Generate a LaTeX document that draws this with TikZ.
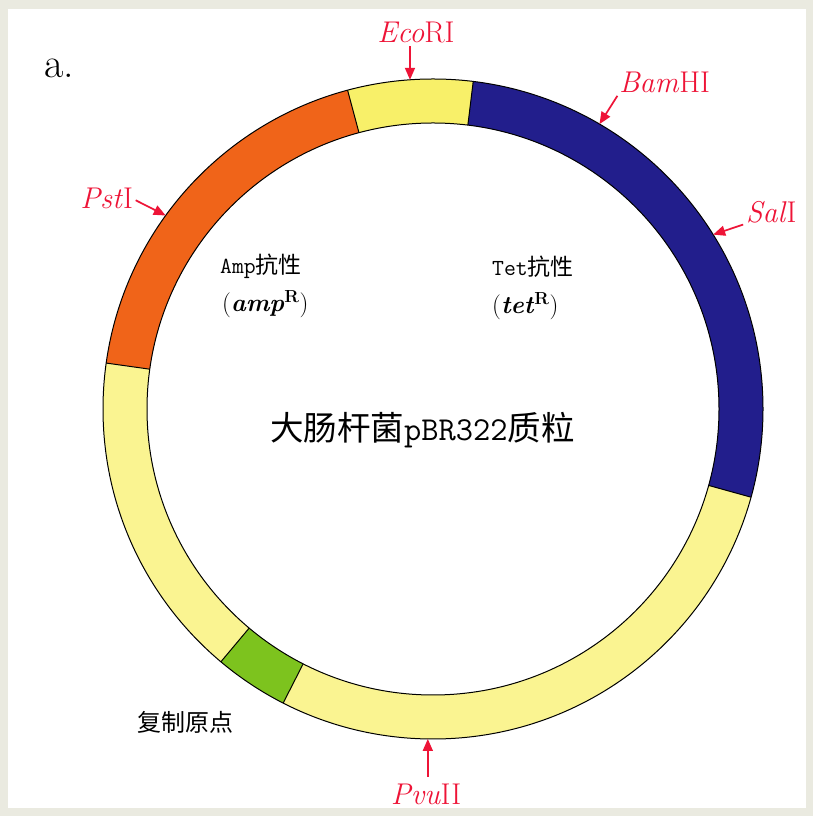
\documentclass[tikz,border=0pt]{standalone}
\usepackage{fontspec}
\newfontfamily\cjk{Noto Sans CJK SC}
\usetikzlibrary{arrows.meta}
\definecolor{cutred}{RGB}{238,20,55}
\definecolor{bgtex}{RGB}{234,234,224}
\definecolor{ringyellow}{RGB}{248,240,105}
\definecolor{paleyellow}{RGB}{250,244,145}
\definecolor{ringorange}{RGB}{240,100,25}
\definecolor{ringblue}{RGB}{34,30,140}
\definecolor{ringgreen}{RGB}{125,195,30}
\tikzset{
  cutlabel/.style={text=cutred, inner sep=0pt, outer sep=0pt, font=\fontsize{30}{34}\selectfont},
  cutarrow/.style={draw=cutred, line width=1.7pt, -{Triangle[length=12pt,width=10pt]}, shorten <=3pt},
  ringline/.style={draw=black, line width=1pt},
  genelabel/.style={inner sep=0pt, anchor=west, font=\fontsize{23}{27}\selectfont},
  genesym/.style={inner sep=0pt, anchor=west, font=\fontsize{25}{29}\selectfont},
}
\def\plasmidseg#1#2#3{\fill[#3] (#1:330) arc[start angle=#1,end angle=#2,radius=330] -- (#2:286) arc[start angle=#2,end angle=#1,radius=286] -- cycle;}
\begin{document}
\begin{tikzpicture}[x=1pt,y=1pt]
\useasboundingbox (0,0) rectangle (813,816);
\fill[bgtex] (0,0) rectangle (813,816);
\fill[white] (8,8) rectangle (806,807);

\begin{scope}[shift={(433,407)}]
  \plasmidseg{83}{105}{ringyellow}
  \plasmidseg{105}{172}{ringorange}
  \plasmidseg{172}{230}{paleyellow}
  \plasmidseg{230}{243}{ringgreen}
  \plasmidseg{243}{344.5}{paleyellow}
  \plasmidseg{-15.5}{83}{ringblue}
  \draw[ringline] (0,0) circle[radius=330];
  \draw[ringline] (0,0) circle[radius=286];
  \foreach \a in {83,105,172,230,243,344.5}
    \draw[ringline] (\a:286) -- (\a:330);
  \coordinate (ecoP) at (94:330);
  \coordinate (bamP) at (59.7:330);
  \coordinate (salP) at (31.9:330);
  \coordinate (pstP) at (144.1:330);
  \coordinate (pvuP) at (269.1:330);
\end{scope}

\node[anchor=base west, inner sep=0pt, font=\fontsize{42}{46}\selectfont] (alabel) at (44,738) {a.};

\node[cutlabel, anchor=base] (eco) at (416,773) {\textit{Eco}RI};
\node[cutlabel, anchor=base west] (bam) at (619,723) {\textit{Bam}HI};
\node[cutlabel, anchor=base west] (sal) at (746,593) {\textit{Sal}I};
\node[cutlabel, anchor=base east] (pst) at (133,607) {\textit{Pst}I};
\node[cutlabel, anchor=base] (pvu) at (426,11) {\textit{Pvu}II};

\draw[cutarrow] (eco.south -| ecoP) -- (ecoP);
\draw[cutarrow] (bam.south west) -- (bamP);
\draw[cutarrow] (sal.south west) -- (salP);
\draw[cutarrow] (pst.east) -- (pstP);
\draw[cutarrow, shorten <=8pt] (pvu.north -| pvuP) -- (pvuP);

\node[genelabel] (amp) at (220,550) {\ttfamily Amp\cjk 抗性};
\node[genesym] (ampr) at (222,512) {(\textbf{\textit{amp}}\textsuperscript{\textbf{R}})};
\node[genelabel] (tet) at (492,549) {\ttfamily Tet\cjk 抗性};
\node[genesym] (tetr) at (492,510) {(\textbf{\textit{tet}}\textsuperscript{\textbf{R}})};

\node[inner sep=0pt, anchor=west, font=\fontsize{33.5}{38}\selectfont] (title) at (270,386) {\cjk 大肠杆菌\ttfamily pBR322\cjk 质粒};
\node[genelabel, font=\fontsize{24}{28}\selectfont] (ori) at (137,94) {\cjk 复制原点};
\end{tikzpicture}
\end{document}
